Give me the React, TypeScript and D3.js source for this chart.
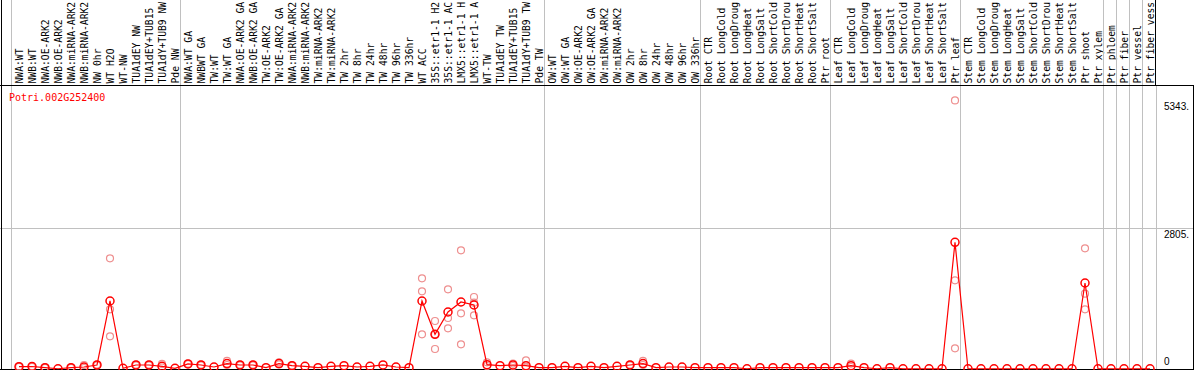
import React from "react";
import * as d3 from "d3";

const geneId = "Potri.002G252400";

const group1 = ["NWA:WT", "NWB:WT", "NWA:OE-ARK2", "NWB:OE-ARK2", "NWA:miRNA-ARK2", "NWB:miRNA-ARK2", "NW 0hr", "WT H2O", "WT-NW", "TUA1dEY NW", "TUA1dEY+TUB15", "TUA1dY+TUB9 NW", "Pde NW"];
const group2 = ["NWA:WT GA", "NWBWT GA", "TW:WT", "TW:WT GA", "NWA:OE-ARK2 GA", "NWB:OE-ARK2 GA", "TW:OE-ARK2", "TW:OE-ARK2 GA", "NWA:miRNA-ARK2", "NWB:miRNA-ARK2", "TW:miRNA-ARK2", "TW:miRNA-ARK2", "TW 2hr", "TW 8hr", "TW 24hr", "TW 48hr", "TW 96hr", "TW 336hr", "WT ACC", "35S::etr1-1 H2", "35S::etr1-1 AC", "LMX5::etr1-1 H", "LMX5::etr1-1 A", "WT-TW", "TUA1dEY TW", "TUA1dEY+TUB15", "TUA1dY+TUB9 TW", "Pde TW"];
const group3 = ["OW:WT", "OW:WT GA", "OW:OE-ARK2", "OW:OE-ARK2 GA", "OW:miRNA-ARK2", "OW:miRNA-ARK2", "OW 2hr", "OW 8hr", "OW 24hr", "OW 48hr", "OW 96hr", "OW 336hr"];
const group4 = ["Root CTR", "Root LongCold", "Root LongDroug", "Root LongHeat", "Root LongSalt", "Root ShortCold", "Root ShortDrou", "Root ShortHeat", "Root ShortSalt", "Ptr root"];
const group5 = ["Leaf CTR", "Leaf LongCold", "Leaf LongDroug", "Leaf LongHeat", "Leaf LongSalt", "Leaf ShortCold", "Leaf ShortDrou", "Leaf ShortHeat", "Leaf ShortSalt", "Ptr leaf"];
const group6 = ["Stem CTR", "Stem LongCold", "Stem LongDroug", "Stem LongHeat", "Stem LongSalt", "Stem ShortCold", "Stem ShortDrou", "Stem ShortHeat", "Stem ShortSalt", "Ptr shoot", "Ptr xylem"];
const group7 = ["Ptr phloem"];
const group8 = ["Ptr fiber"];
const group9 = ["Ptr vessel"];
const group10 = ["Ptr fiber vess"];

const groups = [group1, group2, group3, group4, group5, group6, group7, group8, group9, group10];

const means1 = [46, 50, 26, 5, 26, 40, 80, 1353, 14, 80, 80, 54, 14];
const means2 = [100, 80, 40, 107, 80, 80, 26, 107, 66, 53, 26, 53, 66, 40, 53, 80, 40, 26, 1353, 690, 1134, 1333, 1273, 86, 66, 80, 66, 26];
const means3 = [26, 53, 26, 53, 26, 53, 80, 107, 26, 40, 40, 26];
const means4 = [26, 26, 26, 5, 26, 26, 26, 26, 26, 26];
const means5 = [26, 66, 26, 5, 26, 5, 5, 5, 5, 2520];
const means6 = [5, 5, 5, 5, 5, 5, 5, 5, 5, 1711, 5];
const means7 = [5, 5, 5, 5];

// replicate points: [column index, value]
const replicates: [number, number][] = [
  [0, 40], [0, 52], [1, 44], [1, 56], [2, 20], [2, 32], [4, 20], [4, 32], [5, 80], [5, 20],
  [6, 70], [6, 90], [7, 2202], [7, 1187], [7, 650], [9, 74], [9, 86], [10, 74], [10, 86],
  [11, 100], [11, 30], [13, 95], [13, 105], [14, 74], [14, 86], [16, 160], [16, 80],
  [17, 74], [17, 86], [18, 74], [18, 86], [20, 133], [20, 90], [21, 60], [21, 72],
  [31, 1804], [31, 1545], [31, 690], [32, 955], [32, 398], [32, 690],
  [33, 1585], [33, 1015], [33, 810], [34, 2361], [34, 1108], [34, 491],
  [35, 1432], [35, 1320], [35, 1068], [36, 133], [36, 60], [38, 107], [38, 60],
  [39, 173], [39, 30], [47, 74], [47, 86], [48, 160], [48, 80], [64, 107], [64, 40],
  [72, 5343], [72, 1764], [72, 411], [82, 2401], [82, 1498], [82, 1187],
];

const yTicks = [5343, 2805, 0];
const yTickLabels = ["5343.", "2805.", "0"];

const W = 1194;
const H = 370;

export default function App() {
  const labels = groups.flat();
  const means = [...means1, ...means2, ...means3, ...means4, ...means5, ...means6, ...means7];
  const n = labels.length;
  const left = 11;
  const colW = 13;
  const right = left + colW * n;
  const x = d3.scaleBand<number>().domain(d3.range(n)).range([left, right]).paddingInner(0).paddingOuter(0);
  const cx = (i: number) => (x(i) as number) + 8;
  const y = d3.scaleLinear().domain([0, 2805]).range([369, 228]);
  const headerBottom = 86;

  const boundaries: number[] = [];
  let acc = 0;
  boundaries.push(0);
  groups.forEach((g) => {
    acc += g.length;
    boundaries.push(acc);
  });

  const line = d3
    .line<number>()
    .x((_, i) => cx(i))
    .y((d) => y(d));

  const mono = "'DejaVu Sans Mono', 'Liberation Mono', monospace";
  const sans = "'Liberation Sans', Arial, sans-serif";

  return (
    <svg
      width={W}
      height={H}
      style={{ position: "absolute", left: 0, top: 0, background: "#fff" }}
    >
      <rect x={0} y={0} width={W} height={H} fill="#fff" />
      {/* header labels */}
      {labels.map((l, i) => (
        <text
          key={"lab" + i}
          transform={`translate(${cx(i) + 3.5},${83.5}) rotate(-90)`}
          fontFamily={mono}
          fontSize={9.7}
          fill="#000"
        >
          {l}
        </text>
      ))}
      {/* group boundaries */}
      {boundaries.map((b, k) => {
        const bx = left + colW * b;
        const last = k === boundaries.length - 1;
        return (
          <g key={"b" + k}>
            <line x1={bx} x2={bx} y1={0} y2={headerBottom} stroke={last ? "#000" : "#c0c0c0"} strokeWidth={1} shapeRendering="crispEdges" />
            <line x1={last ? bx + 1 : bx} x2={last ? bx + 1 : bx} y1={headerBottom} y2={H} stroke="#c0c0c0" strokeWidth={1} shapeRendering="crispEdges" />
          </g>
        );
      })}
      {/* gridline at 2805 */}
      <line x1={0} x2={W} y1={y(2805)} y2={y(2805)} stroke="#c0c0c0" strokeWidth={1} shapeRendering="crispEdges" />
      {/* frame */}
      <line x1={0} x2={W} y1={headerBottom - 0.5} y2={headerBottom - 0.5} stroke="#000" strokeWidth={1} shapeRendering="crispEdges" />
      <line x1={1} x2={1} y1={0} y2={H} stroke="#000" strokeWidth={1} shapeRendering="crispEdges" />
      <line x1={W - 1} x2={W - 1} y1={headerBottom} y2={H} stroke="#000" strokeWidth={1} shapeRendering="crispEdges" />
      <line x1={0} x2={W} y1={y(0)} y2={y(0)} stroke="#000" strokeWidth={1} shapeRendering="crispEdges" />
      {/* gene id */}
      <text x={9} y={101} fontFamily={mono} fontSize={10} fill="#ff0000">
        {geneId}
      </text>
      {/* y labels */}
      {yTicks.map((t, i) => (
        <text
          key={"yt" + i}
          x={1164}
          y={t === 0 ? y(t) - 4 : y(t) + 9.5}
          fontFamily={sans}
          fontSize={10}
          fill="#000"
        >
          {yTickLabels[i]}
        </text>
      ))}
      {/* replicates */}
      {replicates.map(([i, v], k) => (
        <circle key={"r" + k} cx={cx(i)} cy={y(v)} r={3.5} fill="none" stroke="#ee8f8f" strokeWidth={1.2} />
      ))}
      {/* mean line */}
      <path d={line(means) || ""} fill="none" stroke="#ff0000" strokeWidth={1.2} />
      {means.map((v, i) => (
        <circle key={"m" + i} cx={cx(i)} cy={y(v)} r={4} fill="none" stroke="#ff0000" strokeWidth={1.5} />
      ))}
    </svg>
  );
}
